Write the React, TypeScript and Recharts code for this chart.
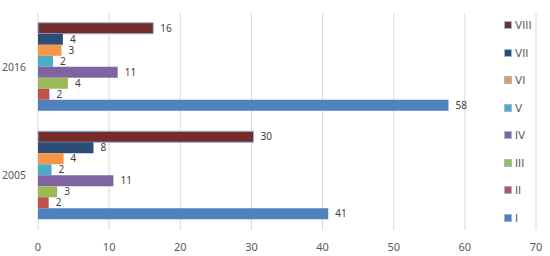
import React from 'react';
import { BarChart, Bar, XAxis, YAxis, CartesianGrid, LabelList } from 'recharts';

const years = ['2016', '2005'];
const seriesNames = ['I', 'II', 'III', 'IV', 'V', 'VI', 'VII', 'VIII'];
const seriesColors = ['#4f81bd', '#c0504d', '#9bbb59', '#8064a2', '#4bacc6', '#f79646', '#2c4d75', '#772c2a'];
// values per year, in series order I..VIII
const values2016 = [57.7, 1.6, 4.2, 11.2, 2.1, 3.3, 3.5, 16.2];
const values2005 = [40.8, 1.5, 2.7, 10.6, 1.9, 3.6, 7.8, 30.3];
const xTicks = [0, 10, 20, 30, 40, 50, 60, 70];

const data = years.map((year, i) => {
  const vals = i === 0 ? values2016 : values2005;
  const row: Record<string, string | number> = { year };
  seriesNames.forEach((name, j) => {
    row[name] = vals[j];
  });
  return row;
});

const font = 'Noto Sans, Liberation Sans, sans-serif';
const legendFont = '"DejaVu Sans", sans-serif';

// top-down order, as in the chart: VIII first
const order = [...seriesNames].reverse();

const LegendBox = () => (
  <div
    style={{
      position: 'absolute',
      left: 504,
      top: 19,
      height: 205,
      display: 'flex',
      flexDirection: 'column',
      justifyContent: 'space-between',
    }}
  >
    {order.map((name) => (
      <div key={name} style={{ display: 'flex', alignItems: 'center', fontFamily: legendFont, fontSize: 10.5, color: '#595959', lineHeight: '12px' }}>
        <span
          style={{
            width: 6,
            height: 6,
            background: seriesColors[seriesNames.indexOf(name)],
            border: '1px solid #9db8dc',
            marginRight: 3,
            display: 'inline-block',
          }}
        />
        {name}
      </div>
    ))}
  </div>
);

export default function App() {
  return (
    <div style={{ position: 'absolute', left: 0, top: 0, width: 550, height: 256, background: '#fff' }}>
      <BarChart
        width={550}
        height={256}
        data={data}
        layout="vertical"
        margin={{ top: 13, right: 14, bottom: 6, left: 0 }}
        barCategoryGap="9%"
        barGap={0}
      >
        <CartesianGrid horizontal={false} stroke="#d9d9d9" />
        <XAxis
          type="number"
          domain={[0, 70]}
          ticks={xTicks}
          axisLine={false}
          tickLine={false}
          tick={{ fill: '#595959', fontSize: 11, fontFamily: font }}
          tickMargin={7}
          height={20}
        />
        <YAxis
          type="category"
          dataKey="year"
          width={38}
          axisLine={false}
          tickLine={false}
          tick={{ fill: '#595959', fontSize: 10.5, fontFamily: font }}
          tickMargin={6}
        />
        {order.map((name) => {
          const idx = seriesNames.indexOf(name);
          return (
            <Bar
              key={name}
              dataKey={name}
              fill={seriesColors[idx]}
              stroke={name === 'VIII' ? '#8fb4e3' : undefined}
              strokeWidth={name === 'VIII' ? 1 : 0}
              isAnimationActive={false}
            >
              <LabelList
                dataKey={name}
                position="right"
                offset={7}
                formatter={(v: any) => Math.round(Number(v))}
                style={{ fill: '#404040', fontSize: 10, fontFamily: font }}
              />
            </Bar>
          );
        })}
      </BarChart>
      <LegendBox />
    </div>
  );
}
